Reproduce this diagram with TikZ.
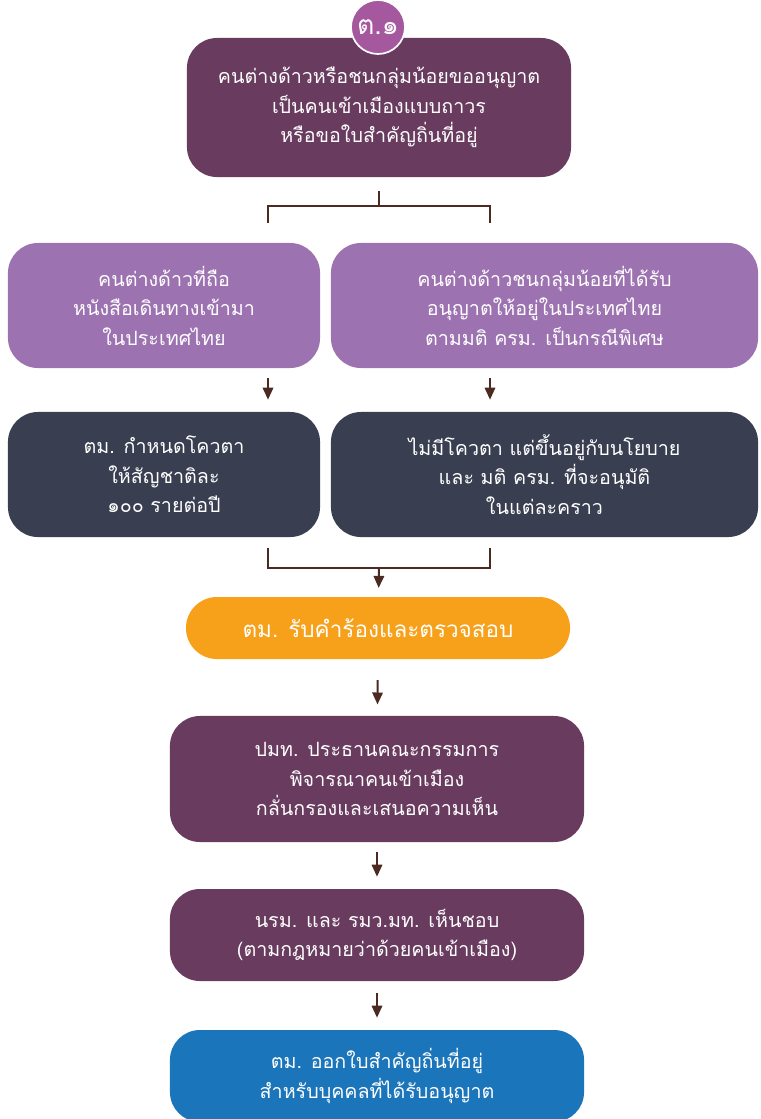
\documentclass[tikz,border=0pt]{standalone}
\usepackage{fontspec}
\newfontfamily\thaifont[Script=Thai]{Loma}
\usetikzlibrary{arrows.meta,positioning}
\definecolor{plum}{HTML}{683B5F}
\definecolor{lilac}{HTML}{9D72B1}
\definecolor{slate}{HTML}{393F51}
\definecolor{amber}{HTML}{F7A11A}
\definecolor{ocean}{HTML}{1B75BB}
\definecolor{badgepink}{HTML}{A6589F}
\definecolor{linkbrown}{HTML}{4B2A22}
\tikzset{
  box/.style={rounded corners=0.75cm, align=center, text=white, inner sep=0pt,
    font=\thaifont\fontsize{14}{21}\selectfont},
  link/.style={draw=linkbrown, line width=1.4pt},
  arr/.style={link, -{Triangle[length=0.3cm,width=0.26cm]}},
}
\begin{document}
\begin{tikzpicture}[x=0.025cm,y=-0.025cm]
  \useasboundingbox (0,0) rectangle (761,1119);
  \clip (0,0) rectangle (761,1119);
  % first request
  \node[box, fill=plum, minimum width=9.6cm, minimum height=3.475cm] (top) at (379,107.5)
    {คนต่างด้าวหรือชนกลุ่มน้อยขออนุญาต\\เป็นคนเข้าเมืองแบบถาวร\\หรือขอใบสำคัญถิ่นที่อยู่};
  \node[circle, fill=badgepink, draw=white, line width=1.2pt, minimum size=1.35cm, inner sep=0pt,
    text=white, font=\thaifont\fontsize{19}{19}\selectfont] (badge) at (378,27) {ต.๑};
  % two kinds of applicant
  \node[box, fill=lilac, minimum width=7.8cm, minimum height=3.125cm] (a1) at (164,305.5)
    {คนต่างด้าวที่ถือ\\หนังสือเดินทางเข้ามา\\ในประเทศไทย};
  \node[box, fill=lilac, minimum width=10.675cm, minimum height=3.125cm] (b1) at (544.5,305.5)
    {คนต่างด้าวชนกลุ่มน้อยที่ได้รับ\\อนุญาตให้อยู่ในประเทศไทย\\ตามมติ ครม. เป็นกรณีพิเศษ};
  % quota
  \node[box, fill=slate, minimum width=7.8cm, minimum height=3.125cm] (a2) at (164,474.5)
    {ตม. กำหนดโควตา\\ให้สัญชาติละ\\๑๐๐ รายต่อปี};
  \node[box, fill=slate, minimum width=10.675cm, minimum height=3.125cm] (b2) at (544.5,474.5)
    {ไม่มีโควตา แต่ขึ้นอยู่กับนโยบาย\\และ มติ ครม. ที่จะอนุมัติ\\ในแต่ละคราว};
  % steps
  \node[box, fill=amber, rounded corners=0.775cm, minimum width=9.6cm, minimum height=1.55cm,
    font=\thaifont\fontsize{16}{21}\selectfont] (check) at (378,628) {ตม. รับคำร้องและตรวจสอบ};
  \node[box, fill=plum, minimum width=10.35cm, minimum height=3.15cm] (board) at (377,779)
    {ปมท. ประธานคณะกรรมการ\\พิจารณาคนเข้าเมือง\\กลั่นกรองและเสนอความเห็น};
  \node[box, fill=plum, minimum width=10.35cm, minimum height=2.3cm] (agree) at (377,935)
    {นรม. และ รมว.มท. เห็นชอบ\\(ตามกฎหมายว่าด้วยคนเข้าเมือง)};
  \node[box, fill=ocean, minimum width=10.35cm, minimum height=2.3cm] (issue) at (377,1076)
    {ตม. ออกใบสำคัญถิ่นที่อยู่\\สำหรับบุคคลที่ได้รับอนุญาต};
  % connectors
  \coordinate (fork) at (379,206);
  \coordinate (forkL) at (268,223);
  \coordinate (forkR) at (490,223);
  \draw[link, shorten <=0.35cm] (top.south) -- (fork);
  \draw[link] (forkL) |- (fork) -| (forkR);
  \draw[arr, shorten <=0.25cm, shorten >=0.3cm] (a1.south -| forkL) -- (a2.north -| forkL);
  \draw[arr, shorten <=0.25cm, shorten >=0.3cm] (b1.south -| forkR) -- (b2.north -| forkR);
  \coordinate (join) at (379,568);
  \coordinate (joinL) at (268,548);
  \coordinate (joinR) at (490,548);
  \draw[link] (joinL) |- (join) -| (joinR);
  \draw[arr, shorten >=0.22cm] (join) -- (check);
  \draw[arr, shorten <=0.52cm, shorten >=0.28cm] (check) -- (board);
  \draw[arr, shorten <=0.25cm, shorten >=0.3cm] (board) -- (agree);
  \draw[arr, shorten <=0.28cm, shorten >=0.3cm] (agree) -- (issue);
\end{tikzpicture}
\end{document}
